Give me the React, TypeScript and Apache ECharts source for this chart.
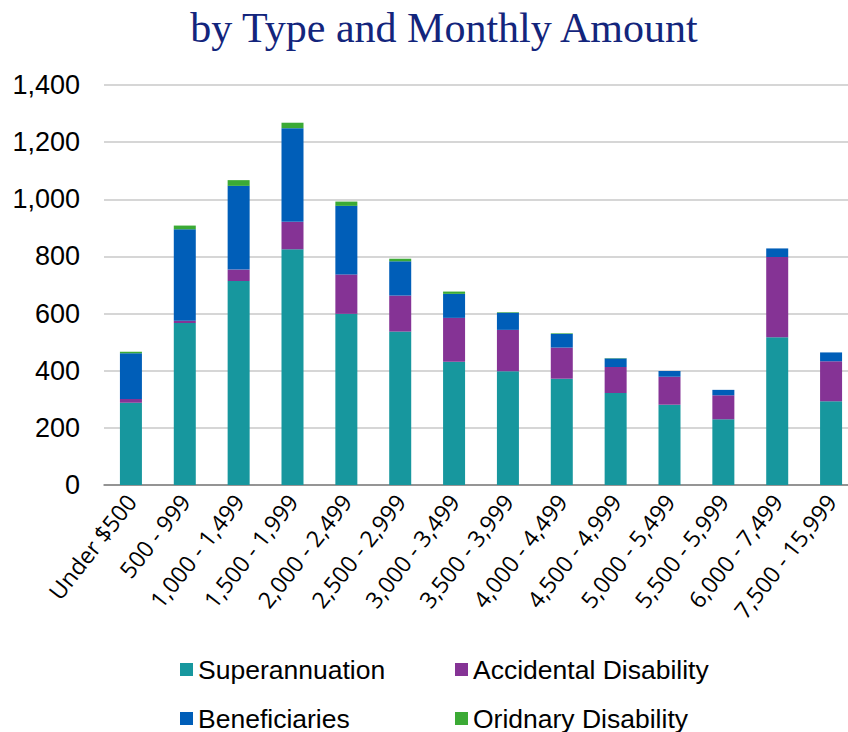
import React, { useEffect, useRef } from "react";
import * as echarts from "echarts";

const titleText = "by Type and Monthly Amount";

const categories = [
  "Under $500",
  "500 - 999",
  "1,000 - 1,499",
  "1,500 - 1,999",
  "2,000 - 2,499",
  "2,500 - 2,999",
  "3,000 - 3,499",
  "3,500 - 3,999",
  "4,000 - 4,499",
  "4,500 - 4,999",
  "5,000 - 5,499",
  "5,500 - 5,999",
  "6,000 - 7,499",
  "7,500 - 15,999",
];

const superannuation = [288, 567, 714, 825, 599, 537, 431, 398, 372, 322, 281, 230, 517, 293];
const accidentalDisability = [13, 8, 40, 96, 138, 126, 154, 145, 109, 91, 98, 84, 281, 140];
const beneficiaries = [160, 320, 293, 328, 240, 120, 84, 60, 48, 30, 20, 19, 30, 31];
const ordinaryDisability = [5, 13, 20, 19, 15, 9, 8, 2, 2, 1, 0, 0, 0, 0];

const yTicks = { min: 0, max: 1400, interval: 200 };

const seriesNames = ["Superannuation", "Accidental Disability", "Beneficiaries", "Oridnary Disability"];
const seriesColors = ["#17979E", "#853395", "#005EB8", "#3BAA35"];

export default function App() {
  const ref = useRef<HTMLDivElement>(null);

  useEffect(() => {
    if (!ref.current) return;
    document.body.style.overflow = "hidden";
    const chart = echarts.init(ref.current, null, { renderer: "svg" });
    const dataSets = [superannuation, accidentalDisability, beneficiaries, ordinaryDisability];
    const legendText = { fontFamily: "Liberation Sans", fontSize: 26.5, lineHeight: 26, color: "#000" };
    chart.setOption({
      animation: false,
      backgroundColor: "#ffffff",
      title: {
        text: titleText,
        left: 439,
        textAlign: "center",
        top: 2,
        textStyle: {
          fontFamily: "Liberation Serif",
          fontSize: 42,
          fontWeight: "normal",
          color: "#13257C",
        },
      },
      grid: { left: 104, right: 12, top: 85, bottom: 247, containLabel: false },
      legend: [
        {
          data: [seriesNames[0], seriesNames[2]],
          orient: "vertical",
          left: 180,
          top: 656,
          height: 140,
          icon: "rect",
          itemWidth: 13,
          itemHeight: 13,
          itemGap: 22,
          padding: 0,
          textStyle: legendText,
        },
        {
          data: [seriesNames[1], seriesNames[3]],
          orient: "vertical",
          left: 455,
          top: 656,
          height: 140,
          icon: "rect",
          itemWidth: 13,
          itemHeight: 13,
          itemGap: 22,
          padding: 0,
          textStyle: legendText,
        },
      ],
      xAxis: {
        type: "category",
        data: categories,
        axisTick: { show: false },
        axisLine: { lineStyle: { color: "#7F7F7F", width: 1.5 } },
        axisLabel: {
          rotate: 52,
          margin: 12,
          interval: 0,
          fontFamily: "Open Sans",
          fontSize: 23,
          color: "#000",
        },
      },
      yAxis: {
        type: "value",
        min: yTicks.min,
        max: yTicks.max,
        interval: yTicks.interval,
        axisLine: { show: false },
        axisTick: { show: false },
        splitLine: { lineStyle: { color: "#C9C9C9", width: 1.5 } },
        axisLabel: {
          margin: 24,
          fontFamily: "Liberation Sans",
          fontSize: 27,
          color: "#000",
          formatter: (v: number) => v.toLocaleString("en-US"),
        },
      },
      series: seriesNames.map((name, i) => ({
        name,
        type: "bar",
        stack: "total",
        barWidth: 22,
        data: dataSets[i],
        itemStyle: { color: seriesColors[i] },
      })),
    });
    return () => chart.dispose();
  }, []);

  return (
    <div
      ref={ref}
      style={{ position: "fixed", left: 0, top: 0, width: 870, height: 732 }}
    />
  );
}
